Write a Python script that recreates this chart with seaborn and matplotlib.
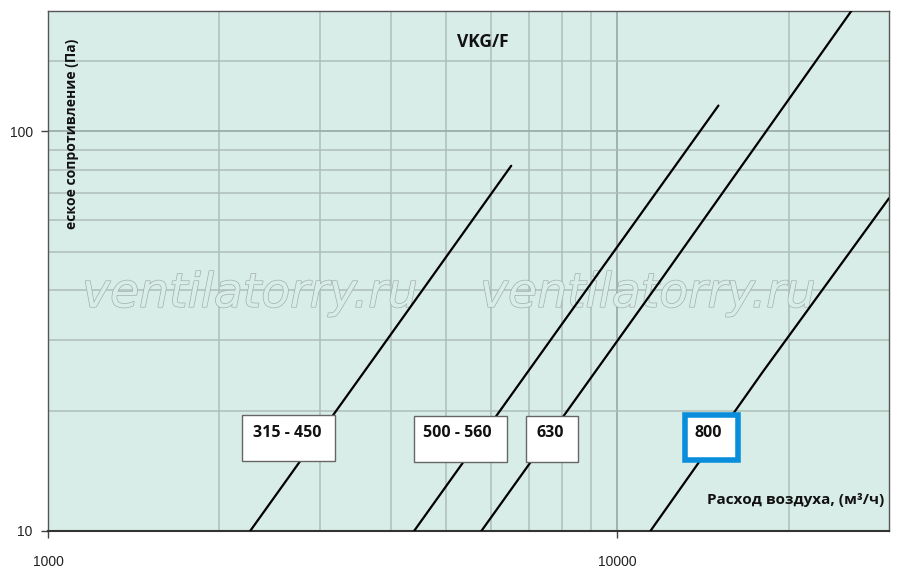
import matplotlib
matplotlib.use("Agg")
import matplotlib.pyplot as plt
import matplotlib.patheffects as pe
from matplotlib.patches import Rectangle
import seaborn as sns
import pandas as pd

# ---- data ----
series_names = ["315 - 450", "500 - 560", "630", "800"]
flow_315_450 = [2265, 3800, 6510]
dp_315_450 = [10, 28, 82]
flow_500_560 = [4395, 8000, 15050]
dp_500_560 = [10, 33, 116]
flow_630 = [5770, 12000, 25760]
dp_630 = [10, 43, 200]
flow_800 = [11430, 18000, 30000]
dp_800 = [10, 25, 68]

x_major = [1000, 10000]
x_labels = ["1000", "10000"]
y_major = [10, 100]
y_labels = ["10", "100"]
x_minor = [2000, 3000, 4000, 5000, 6000, 7000, 8000, 9000, 20000]
y_minor = [20, 30, 40, 50, 60, 70, 80, 90, 150]

title_text = "VKG/F"
xlabel_text = "Расход воздуха, (м³/ч)"
ylabel_text = "еское сопротивление (Па)"
watermark = "ventilatorry.ru"

rows = []
for name, fx, fy in zip(series_names,
                        [flow_315_450, flow_500_560, flow_630, flow_800],
                        [dp_315_450, dp_500_560, dp_630, dp_800]):
    for a, b in zip(fx, fy):
        rows.append({"series": name, "flow": a, "dp": b})
df = pd.DataFrame(rows)

sns.set_theme(style="white")
plt.rcParams["font.family"] = ["Open Sans", "DejaVu Sans"]

fig = plt.figure(figsize=(9, 5.81), dpi=100)
ax = fig.add_axes([48/900, 50/581, 841/900, 520/581])
bg = "#d9ede8"
ax.set_facecolor(bg)

sns.lineplot(data=df, x="flow", y="dp", hue="series", ax=ax,
             palette=["black"] * 4, legend=False, linewidth=1.6,
             estimator=None, sort=True, zorder=3)
ax.set_xscale("log")
ax.set_yscale("log")
ax.set_xlim(1000, 30000)
ax.set_ylim(10, 200)

ax.set_xticks(x_major)
ax.set_xticklabels(x_labels)
ax.set_yticks(y_major)
ax.set_yticklabels(y_labels)
ax.set_xticks(x_minor, minor=True)
ax.set_yticks(y_minor, minor=True)
ax.set_xticklabels([], minor=True)
ax.set_yticklabels([], minor=True)
ax.tick_params(which="minor", length=0)
ax.tick_params(which="major", length=5, width=1, color="#444444",
               direction="out", labelsize=10, labelcolor="#222222")
ax.tick_params(axis="x", pad=12, bottom=True)
ax.tick_params(axis="y", pad=6, left=True)
for lab in ax.get_xticklabels() + ax.get_yticklabels():
    lab.set_family(["Liberation Sans", "DejaVu Sans"])

ax.grid(True, which="major", color="#9dacA8", linewidth=1.3, zorder=0)
ax.grid(True, which="minor", color="#aebdb9", linewidth=1.1, zorder=0)
ax.set_axisbelow(True)
for s in ax.spines.values():
    s.set_color("#555555")
    s.set_linewidth(1.0)
ax.spines["bottom"].set_color("#333333")
ax.spines["bottom"].set_linewidth(1.5)
ax.set_xlabel("")
ax.set_ylabel("")

# watermarks
for xc in [0.2402, 0.7134]:
    ax.text(xc, 0.455, watermark, transform=ax.transAxes, ha="center",
            va="center", fontsize=34, style="italic", color=bg,
            family=["DejaVu Sans"], zorder=2,
            path_effects=[pe.Stroke(linewidth=1.0, foreground="#a3afac"),
                          pe.Normal()])

# label boxes
boxes = [
    (0.2307, 0.1346, 0.1106, 0.0885, "#666666", 1.0, 0.2438),
    (0.4352, 0.1327, 0.1106, 0.0885, "#666666", 1.0, 0.4459),
    (0.5684, 0.1327, 0.0618, 0.0885, "#666666", 1.0, 0.5803),
    (0.7575, 0.1365, 0.0630, 0.0866, "#0a8edc", 4.0, 0.7693),
]
for (x0, y0, w, h, ec, lw, tx), name in zip(boxes, series_names):
    ax.add_patch(Rectangle((x0, y0), w, h, transform=ax.transAxes,
                           facecolor="white", edgecolor=ec, linewidth=lw,
                           zorder=5))
    ax.text(tx, 0.1885, name, transform=ax.transAxes, ha="left",
            va="center", fontsize=11.5, fontweight="bold", color="#111111",
            zorder=6)

ax.text(0.517, 0.940, title_text, transform=ax.transAxes, ha="center",
        va="center", fontsize=12.5, fontweight="bold", color="#111111", zorder=6)
ax.text(0.994, 0.0596, xlabel_text, transform=ax.transAxes, ha="right",
        va="center", fontsize=11, fontweight="bold", color="#111111", zorder=6)
ax.text(0.0285, 0.7635, ylabel_text, transform=ax.transAxes, ha="center",
        va="center", rotation=90, fontsize=10, fontweight="bold",
        color="#111111", zorder=6)

fig.savefig("out.png", dpi=100, facecolor="white")
